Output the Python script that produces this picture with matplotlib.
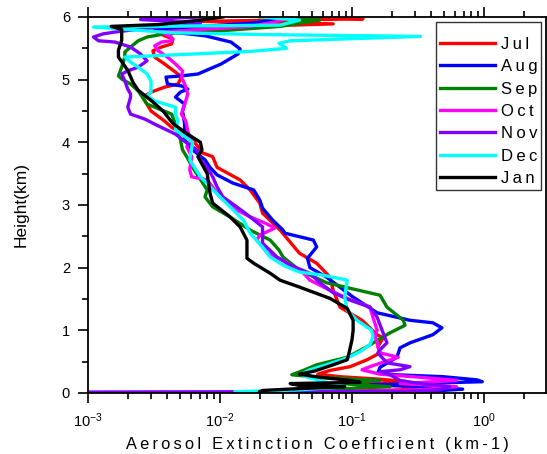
import matplotlib
matplotlib.use('Agg')
import matplotlib.pyplot as plt
from matplotlib.ticker import LogLocator, MultipleLocator

plt.rcParams['font.family'] = ['Liberation Sans', 'DejaVu Sans']
plt.rcParams['mathtext.fontset'] = 'custom'
plt.rcParams['mathtext.rm'] = 'Liberation Sans'

# extinction profiles (km-1) against height (km), one per month
h_jul = [0.02, 0.05, 0.10, 0.14, 0.18, 0.22, 0.26, 0.30, 0.36, 0.42, 0.53, 0.64, 0.74, 0.88, 0.93, 1.16, 1.37, 1.64, 1.85, 2.07, 2.23, 2.44, 2.60, 2.87, 3.03, 3.24, 3.40, 3.60, 3.77, 3.83, 4.04, 4.24, 4.34, 4.50, 4.72, 4.80, 4.88, 4.93, 5.04, 5.12, 5.25, 5.36, 5.46, 5.52, 5.57, 5.65, 5.70, 5.78, 5.85, 5.89, 5.93, 5.97, 6.00]
v_jul = [0.068, 0.23, 0.33, 0.115, 0.26, 0.163, 0.081, 0.055, 0.068, 0.097, 0.130, 0.163, 0.157, 0.172, 0.155, 0.119, 0.081, 0.072, 0.068, 0.054, 0.040, 0.033, 0.0285, 0.021, 0.020, 0.0169, 0.0142, 0.0095, 0.0088, 0.0074, 0.0062, 0.0043, 0.0038, 0.0030, 0.0026, 0.0030, 0.0038, 0.0048, 0.0051, 0.0046, 0.0038, 0.0032, 0.0031, 0.0036, 0.0043, 0.0044, 0.0038, 0.0032, 0.017, 0.072, 0.007, 0.121, 0.040]

h_aug = [0.02, 0.06, 0.10, 0.13, 0.18, 0.21, 0.26, 0.29, 0.32, 0.41, 0.57, 0.72, 0.80, 0.93, 1.04, 1.12, 1.16, 1.28, 1.53, 1.85, 2.00, 2.15, 2.33, 2.44, 2.55, 2.60, 2.76, 2.95, 3.08, 3.24, 3.35, 3.48, 3.60, 3.72, 3.88, 4.04, 4.29, 4.50, 4.61, 4.72, 4.80, 4.85, 4.90, 4.93, 5.04, 5.06, 5.09, 5.25, 5.41, 5.49, 5.60, 5.70, 5.76, 5.80, 5.90, 6.00]
v_aug = [0.33, 0.69, 0.39, 0.137, 0.97, 0.88, 0.49, 0.219, 0.157, 0.163, 0.219, 0.231, 0.275, 0.41, 0.48, 0.41, 0.275, 0.155, 0.102, 0.064, 0.048, 0.046, 0.054, 0.051, 0.031, 0.030, 0.025, 0.021, 0.020, 0.018, 0.0125, 0.0095, 0.0084, 0.0077, 0.0062, 0.0054, 0.0054, 0.0052, 0.0054, 0.0046, 0.0050, 0.0057, 0.0051, 0.0040, 0.0039, 0.0051, 0.0068, 0.0102, 0.0137, 0.0142, 0.0121, 0.0077, 0.0043, 0.0032, 0.017, 0.040]

h_sep = [0.02, 0.06, 0.10, 0.15, 0.20, 0.25, 0.29, 0.37, 0.45, 0.57, 0.74, 0.96, 1.08, 1.16, 1.37, 1.56, 1.67, 1.76, 1.96, 2.17, 2.28, 2.44, 2.60, 2.81, 2.97, 3.13, 3.24, 3.60, 3.77, 3.88, 4.05, 4.29, 4.45, 4.61, 4.82, 4.93, 5.01, 5.06, 5.20, 5.36, 5.44, 5.52, 5.62, 5.68, 5.73, 5.76, 5.78, 5.85, 5.95, 6.00]
v_sep = [0.048, 0.068, 0.194, 0.081, 0.163, 0.057, 0.035, 0.044, 0.054, 0.092, 0.130, 0.194, 0.252, 0.245, 0.184, 0.163, 0.097, 0.064, 0.040, 0.030, 0.028, 0.024, 0.0169, 0.0119, 0.0088, 0.0077, 0.0080, 0.0062, 0.0056, 0.0052, 0.0050, 0.0046, 0.0043, 0.0028, 0.0024, 0.0021, 0.0018, 0.0017, 0.0018, 0.0019, 0.0019, 0.0021, 0.0024, 0.0028, 0.0038, 0.0057, 0.0102, 0.0285, 0.057, 0.020]

h_oct = [0.02, 0.05, 0.10, 0.15, 0.20, 0.25, 0.30, 0.37, 0.42, 0.50, 0.57, 0.64, 0.75, 0.93, 1.00, 1.21, 1.37, 1.51, 1.64, 1.80, 1.91, 2.10, 2.23, 2.33, 2.44, 2.52, 2.63, 2.71, 2.81, 2.92, 3.13, 3.40, 3.45, 3.56, 3.77, 3.93, 4.02, 4.18, 4.34, 4.45, 4.61, 4.77, 4.93, 5.04, 5.14, 5.25, 5.36, 5.46, 5.54, 5.60, 5.62, 5.68, 5.76, 5.85, 5.92, 6.00]
v_oct = [0.097, 0.33, 0.62, 0.231, 0.62, 0.33, 0.163, 0.119, 0.137, 0.177, 0.224, 0.163, 0.157, 0.149, 0.155, 0.144, 0.137, 0.092, 0.068, 0.048, 0.043, 0.031, 0.023, 0.021, 0.019, 0.020, 0.026, 0.022, 0.0169, 0.0134, 0.0100, 0.0080, 0.0061, 0.0059, 0.0061, 0.0056, 0.0060, 0.0057, 0.0055, 0.0051, 0.0054, 0.0057, 0.0054, 0.0051, 0.0052, 0.0046, 0.0040, 0.0034, 0.0032, 0.0036, 0.0043, 0.0043, 0.0036, 0.017, 0.026, 0.034]

h_nov = [0.015, 0.025, 0.05, 0.10, 0.15, 0.20, 0.25, 0.29, 0.34, 0.37, 0.42, 0.48, 0.64, 0.69, 0.80, 1.00, 1.21, 1.37, 1.48, 1.60, 1.76, 1.91, 2.04, 2.17, 2.39, 2.65, 2.81, 2.97, 3.13, 3.29, 3.45, 3.60, 3.72, 3.88, 3.99, 4.13, 4.29, 4.37, 4.45, 4.56, 4.72, 4.77, 4.85, 4.98, 5.09, 5.14, 5.20, 5.30, 5.41, 5.52, 5.60, 5.62, 5.68, 5.73, 5.76, 5.80, 5.90, 5.96, 6.00]
v_nov = [0.0008, 0.25, 0.46, 0.55, 0.33, 0.231, 0.21, 0.194, 0.163, 0.231, 0.275, 0.184, 0.157, 0.163, 0.184, 0.169, 0.155, 0.137, 0.097, 0.072, 0.057, 0.048, 0.034, 0.027, 0.021, 0.021, 0.0169, 0.0134, 0.0105, 0.0095, 0.0088, 0.0080, 0.0071, 0.0067, 0.0056, 0.0046, 0.0032, 0.0027, 0.0021, 0.0020, 0.0021, 0.0021, 0.0020, 0.0019, 0.0018, 0.0020, 0.0024, 0.0028, 0.0025, 0.0021, 0.0016, 0.0012, 0.0011, 0.0013, 0.0016, 0.0023, 0.0071, 0.0025, 0.0071]

h_dec = [0.02, 0.05, 0.10, 0.15, 0.20, 0.27, 0.32, 0.37, 0.45, 0.56, 0.66, 0.77, 0.90, 1.00, 1.16, 1.32, 1.53, 1.80, 1.88, 1.93, 2.04, 2.17, 2.33, 2.55, 2.76, 2.92, 3.13, 3.29, 3.45, 3.72, 4.00, 4.13, 4.20, 4.34, 4.45, 4.56, 4.66, 4.74, 4.80, 4.98, 5.09, 5.20, 5.28, 5.36, 5.45, 5.50, 5.58, 5.62, 5.69, 5.72, 5.75, 5.84, 5.87, 5.95, 6.00]
v_dec = [0.013, 0.040, 0.088, 0.068, 0.057, 0.043, 0.043, 0.048, 0.064, 0.092, 0.115, 0.137, 0.144, 0.141, 0.109, 0.092, 0.088, 0.092, 0.060, 0.040, 0.030, 0.024, 0.021, 0.0169, 0.0150, 0.0126, 0.0100, 0.0084, 0.0071, 0.0059, 0.0062, 0.0051, 0.0046, 0.0048, 0.0046, 0.0046, 0.0032, 0.0028, 0.0030, 0.0030, 0.0028, 0.0024, 0.0021, 0.0019, 0.0169, 0.032, 0.028, 0.034, 0.33, 0.020, 0.0042, 0.0011, 0.0285, 0.040, 0.020]

h_jan = [0.02, 0.04, 0.07, 0.10, 0.12, 0.15, 0.17, 0.20, 0.25, 0.30, 0.35, 0.45, 0.53, 0.64, 0.85, 1.00, 1.16, 1.35, 1.51, 1.69, 1.80, 1.91, 2.07, 2.15, 2.44, 2.65, 2.81, 3.03, 3.19, 3.50, 3.77, 3.88, 4.00, 4.14, 4.30, 4.50, 4.67, 4.83, 4.95, 5.15, 5.36, 5.47, 5.63, 5.80, 5.85, 5.88, 5.95, 6.00]
v_jan = [0.020, 0.021, 0.040, 0.088, 0.040, 0.034, 0.115, 0.097, 0.057, 0.040, 0.052, 0.072, 0.092, 0.095, 0.100, 0.102, 0.102, 0.092, 0.068, 0.040, 0.0285, 0.024, 0.018, 0.016, 0.016, 0.0142, 0.0119, 0.0088, 0.0084, 0.0080, 0.0068, 0.0073, 0.0071, 0.0056, 0.0044, 0.0037, 0.0030, 0.0024, 0.0022, 0.0020, 0.0017, 0.0017, 0.0018, 0.0018, 0.0015, 0.0035, 0.0071, 0.0105]

months = ['Jul', 'Aug', 'Sep', 'Oct', 'Nov', 'Dec', 'Jan']
colors = ['#ff0000', '#0000ff', '#008000', '#ff00ff', '#8000ff', '#00ffff', '#000000']
profiles = [(v_jul, h_jul), (v_aug, h_aug), (v_sep, h_sep), (v_oct, h_oct),
            (v_nov, h_nov), (v_dec, h_dec), (v_jan, h_jan)]


def spaced(s):
    # widen the lettering with thin spaces
    return '\u2009'.join(s)


fig = plt.figure(figsize=(5.47, 4.54), dpi=100)
ax = fig.add_axes([0.1609, 0.1344, 0.8373, 0.8282])

for (v, h), c, m in zip(profiles, colors, months):
    ax.plot(v, h, color=c, lw=2.4, label=spaced(m))

ax.set_xscale('log')
ax.set_xlim(1e-3, 2.95)
ax.set_ylim(0, 6)
ax.yaxis.set_major_locator(MultipleLocator(1))
ax.yaxis.set_minor_locator(MultipleLocator(0.5))
ax.xaxis.set_major_locator(LogLocator(base=10))
ax.xaxis.set_minor_locator(LogLocator(base=10, subs=range(2, 10)))

ax.tick_params(which='both', direction='out', top=True, right=False, width=1.2,
               labelsize=10.5, pad=6)
ax.tick_params(which='major', length=7)
ax.tick_params(which='minor', length=4.5)
for s in ax.spines.values():
    s.set_linewidth(1.3)

ax.set_xlabel(spaced('Aerosol Extinction Coefficient (km-1)'), fontsize=11.8, labelpad=5)
ax.set_ylabel('Height(km)', fontsize=12.5, labelpad=24)

# empty tiny title leaves the extra room above the first entry
leg = ax.legend(loc='upper right', fontsize=12, frameon=True, fancybox=False,
                edgecolor='black', handlelength=3.3, handletextpad=0.35,
                labelspacing=0.44, borderpad=0.22, borderaxespad=0.3,
                title=' ', title_fontsize=3)
leg.get_frame().set_linewidth(1.0)

plt.savefig('out.png', dpi=100)
